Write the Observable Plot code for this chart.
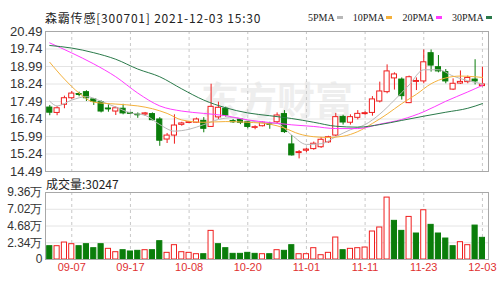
<!DOCTYPE html>
<html><head><meta charset="utf-8">
<script src="https://cdn.jsdelivr.net/npm/d3@7"></script>
<script src="https://cdn.jsdelivr.net/npm/@observablehq/plot@0.6"></script>
<style>
body{margin:0;background:#fff;}
#wrap{position:relative;width:500px;height:288px;overflow:hidden;font-family:"Liberation Sans",Arial,sans-serif;background:#fff;}
#price,#vol{position:absolute;left:0;}
#price{top:0;}
#vol{top:180px;}
.title{position:absolute;left:45px;top:9px;font-size:12px;letter-spacing:0.8px;font-family:"Noto Sans CJK SC";color:#222;white-space:nowrap;z-index:3;}
.legend{position:absolute;top:12px;left:308px;font-size:10px;font-family:"Liberation Serif",serif;color:#222;white-space:nowrap;display:flex;align-items:center;z-index:3;}
.legend .it{display:flex;align-items:center;margin-right:10px;}
.legend .dash{display:inline-block;width:6px;height:3px;margin-left:2px;}
.vlabel{position:absolute;left:46px;top:175px;font-size:12px;font-family:"Noto Sans CJK SC";color:#222;white-space:nowrap;z-index:3;}
</style></head>
<body>
<div id="wrap">
  <div id="price"></div>
  <div id="vol"></div>
  <div class="title" id="title"></div>
  <div class="legend" id="legend"></div>
  <div class="vlabel" id="vlabel"></div>
</div>
<script>
// ---------- data ----------
const titleText = "森霸传感[300701] 2021-12-03 15:30";
const volumeLabel = "成交量:30247";
const watermark = "东方财富";
const dates = ["09-02","09-03","09-06","09-07","09-08","09-09","09-10","09-13","09-14","09-15","09-16","09-17",
"09-22","09-23","09-24","09-27","09-28","09-29","09-30","10-08","10-11","10-12","10-13","10-14","10-15","10-18","10-19","10-20",
"10-21","10-22","10-25","10-26","10-27","10-28","10-29","11-01","11-02","11-03","11-04","11-05","11-08","11-09","11-10","11-11",
"11-12","11-15","11-16","11-17","11-18","11-19","11-22","11-23","11-24","11-25","11-26","11-29","11-30","12-01","12-02","12-03"];
const tickDates = ["09-07","09-17","10-08","10-20","11-01","11-11","11-23","12-03"];
const open  = [17.23,17.00,17.35,17.63,17.81,17.89,17.58,17.46,17.19,17.06,17.18,17.00,16.93,16.93,16.95,16.72,15.86,16.03,16.49,16.57,
16.58,16.66,16.40,16.81,17.18,16.65,16.72,16.60,16.36,16.43,16.52,16.60,16.95,15.65,15.28,15.38,15.45,15.53,15.74,16.03,
16.83,16.58,16.79,16.95,17.00,17.49,17.89,18.48,18.43,17.42,18.33,18.35,19.56,18.96,18.75,18.00,18.26,18.32,18.43,18.15];
const close = [17.01,17.20,17.63,17.83,17.79,17.63,17.48,17.06,17.17,17.20,16.98,16.96,16.92,16.98,16.69,15.81,16.03,16.46,16.55,16.60,
16.72,16.32,17.26,17.22,16.89,16.62,16.58,16.40,16.39,16.58,16.51,16.89,16.18,15.18,15.32,15.43,15.68,15.85,15.96,16.82,
16.59,16.82,16.96,16.99,17.58,17.92,18.78,18.65,17.72,18.53,18.37,19.17,19.03,18.78,18.35,18.25,18.33,18.50,18.35,18.22];
const high  = [17.32,17.27,17.72,17.92,17.89,17.95,17.60,17.52,17.35,17.26,17.37,17.02,17.00,17.02,17.00,16.80,16.12,16.92,16.60,16.63,
16.78,16.80,18.23,17.46,17.25,16.72,16.76,16.62,16.45,16.62,16.60,17.00,17.10,16.03,15.39,15.48,15.75,15.95,16.00,16.98,
16.90,16.92,17.10,17.05,17.70,18.32,19.06,18.72,18.50,18.58,18.50,19.70,19.70,19.46,18.86,18.46,18.80,18.58,19.28,18.96];
const low   = [16.88,16.88,17.18,17.58,17.69,17.49,17.32,17.00,17.03,16.89,16.92,16.92,16.77,16.85,16.66,15.57,15.69,15.66,16.43,16.55,
16.55,16.15,16.38,16.72,16.82,16.55,16.50,16.32,16.28,16.40,16.30,16.51,16.12,15.15,15.03,15.30,15.40,15.48,15.70,15.99,
16.48,16.48,16.70,16.90,16.86,17.43,17.82,17.98,17.55,17.40,17.96,18.25,18.75,18.72,18.25,17.96,18.22,18.25,18.20,18.12];
const volume = [1.86,1.86,2.37,2.14,1.86,2.14,1.58,2.14,1.49,1.02,1.30,1.12,1.21,1.30,1.30,2.56,0.93,2.00,1.02,0.93,
0.74,0.74,4.00,2.14,1.58,0.79,0.79,0.93,0.79,0.74,0.74,1.30,1.21,2.00,0.74,0.74,1.58,0.60,0.93,3.07,
1.30,1.49,1.58,1.67,3.91,4.47,8.65,5.40,4.00,5.95,3.63,6.88,4.84,3.63,2.93,1.86,2.42,2.00,4.74,3.0247]; // 万

const ma5Idx  = [0,1,3,5,7,9,11,13,15,17,19,21,23,25,27,29,31,33,35,37,39,41,43,45,47,49,51,53,55,57,59];
const ma5Val  = [17.50,17.30,17.55,17.70,17.50,17.25,17.00,16.90,16.50,16.22,16.30,16.50,16.72,16.80,16.68,16.58,16.55,16.05,15.65,15.68,15.98,16.28,16.50,16.95,17.55,18.20,18.85,18.85,18.58,18.38,18.25];
const ma10Idx = [0,2,4,6,9,12,14,16,18,21,24,27,30,32,34,36,38,40,42,44,46,48,50,52,54,56,58,59];
const ma10Val = [19.17,18.45,17.85,17.46,17.38,17.30,17.18,16.98,16.70,16.60,16.63,16.60,16.52,16.35,16.10,15.98,15.95,16.00,16.20,16.55,16.95,17.40,17.80,18.25,18.50,18.58,18.55,18.52];
const ma20Idx = [0,3,6,9,12,15,18,21,24,27,30,33,36,39,42,45,48,51,54,57,59];
const ma20Val = [20.00,19.57,19.10,18.55,17.85,17.30,17.08,16.98,16.88,16.70,16.59,16.49,16.42,16.33,16.33,16.52,16.72,17.05,17.50,17.90,18.18];
const ma30Idx = [0,3,6,9,12,15,18,21,24,27,30,33,36,39,42,45,48,51,54,57,59];
const ma30Val = [19.89,19.78,19.58,19.30,18.88,18.55,18.03,17.55,17.22,17.00,16.88,16.76,16.60,16.43,16.39,16.50,16.68,16.86,17.03,17.20,17.40];

const priceTicks = [14.49,15.24,15.99,16.74,17.49,18.24,18.99,19.74,20.49];
const volTicks = [0,2.34,4.68,7.02,9.36];
const maNames = ["5PMA","10PMA","20PMA","30PMA"];
const maColors = ["#b8b8b8","#f4b13c","#ff3cff","#2a7a4a"];

// ---------- render ----------
const RED = "#f01e1e", GREEN = "#0a7d0a";
const idx = d3.range(dates.length);
const tickIdx = tickDates.map(d => dates.indexOf(d));
const up = i => close[i] > open[i] || (close[i] === open[i] && i > 0 && close[i] >= close[i-1]);
const volUp = i => i === 0 ? close[0] >= open[0] : close[i] >= close[i-1];

const xScale = () => ({type:"band", domain: idx, range:[45.6, 485.6], paddingInner:0.3, paddingOuter:0.15, round:false, axis:null});

const maSeries = [[ma5Idx,ma5Val],[ma10Idx,ma10Val],[ma20Idx,ma20Val],[ma30Idx,ma30Val]];
const maMarks = maSeries.map(([ix, v], k) =>
  Plot.line(ix.map((d, j) => ({i: d, v: v[j]})), {x:"i", y:"v", stroke: maColors[k], strokeWidth:1, curve:"monotone-x"}));

const price = Plot.plot({
  width: 500, height: 175,
  marginTop: 31, marginBottom: 4, marginLeft: 45, marginRight: 12,
  x: xScale(),
  y: {domain:[14.49,20.49], ticks: priceTicks, tickFormat: d => d.toFixed(2), tickSize:0, tickPadding:3, label:null},
  color: {type:"identity"},
  style: {fontFamily:"Liberation Sans, Arial, sans-serif", fontSize:"13px", color:"#333", background:"transparent", overflow:"visible"},
  marks: [
    Plot.text([watermark], {frameAnchor:"middle", dx:10, dy:0, fontSize:38, fontWeight:"bold", fill:"#eeeeee", fontFamily:"Noto Sans CJK SC"}),
    Plot.ruleY(priceTicks.slice(1,-1), {stroke:"#e4e4e4"}),
    Plot.ruleX(tickIdx, {x: d => d, stroke:"#c8c8c8", strokeDasharray:"3,3"}),
    Plot.ruleX(idx, {x: d => d, y1: i => low[i], y2: i => high[i], stroke: i => up(i) ? RED : GREEN}),
    Plot.barY(idx, {x: d => d, y1: i => open[i], y2: i => close[i], fill: i => up(i) ? "#fff" : GREEN, stroke: i => up(i) ? RED : GREEN}),
    Plot.tickY(idx.filter(i => Math.abs(open[i]-close[i]) < 0.03), {x: d => d, y: i => close[i], stroke: i => up(i) ? RED : GREEN}),
    ...maMarks,
    Plot.frame({stroke:"#a8a8a8"})
  ]
});
document.getElementById("price").appendChild(price);

const vol = Plot.plot({
  width: 500, height: 108,
  marginTop: 12, marginBottom: 29, marginLeft: 45, marginRight: 12,
  x: xScale(),
  y: {domain:[0,9.36], ticks: volTicks, tickFormat: d => d === 0 ? "0" : d.toFixed(2) + "万", tickSize:0, tickPadding:3, label:null},
  color: {type:"identity"},
  style: {fontFamily:"Liberation Sans, Arial, sans-serif", fontSize:"12px", color:"#333", background:"transparent", overflow:"visible"},
  marks: [
    Plot.ruleY(volTicks.slice(1,-1), {stroke:"#e4e4e4"}),
    Plot.ruleX(tickIdx, {x: d => d, stroke:"#c8c8c8", strokeDasharray:"3,3"}),
    Plot.barY(idx, {x: d => d, y: i => volume[i], fill: i => volUp(i) ? "#fff" : GREEN, stroke: i => volUp(i) ? RED : GREEN}),
    Plot.text(tickIdx, {x: d => d, text: i => dates[i], frameAnchor:"bottom", dy: 11, fill:"#e0302f", fontSize: 11}),
    Plot.frame({stroke:"#a8a8a8"})
  ]
});
document.getElementById("vol").appendChild(vol);

document.getElementById("title").textContent = titleText;
document.getElementById("vlabel").textContent = volumeLabel;
const lg = document.getElementById("legend");
maNames.forEach((n, k) => {
  const it = document.createElement("span"); it.className = "it";
  it.appendChild(document.createTextNode(n));
  const dsh = document.createElement("span"); dsh.className = "dash"; dsh.style.background = maColors[k];
  it.appendChild(dsh); lg.appendChild(it);
});
</script>
</body></html>
